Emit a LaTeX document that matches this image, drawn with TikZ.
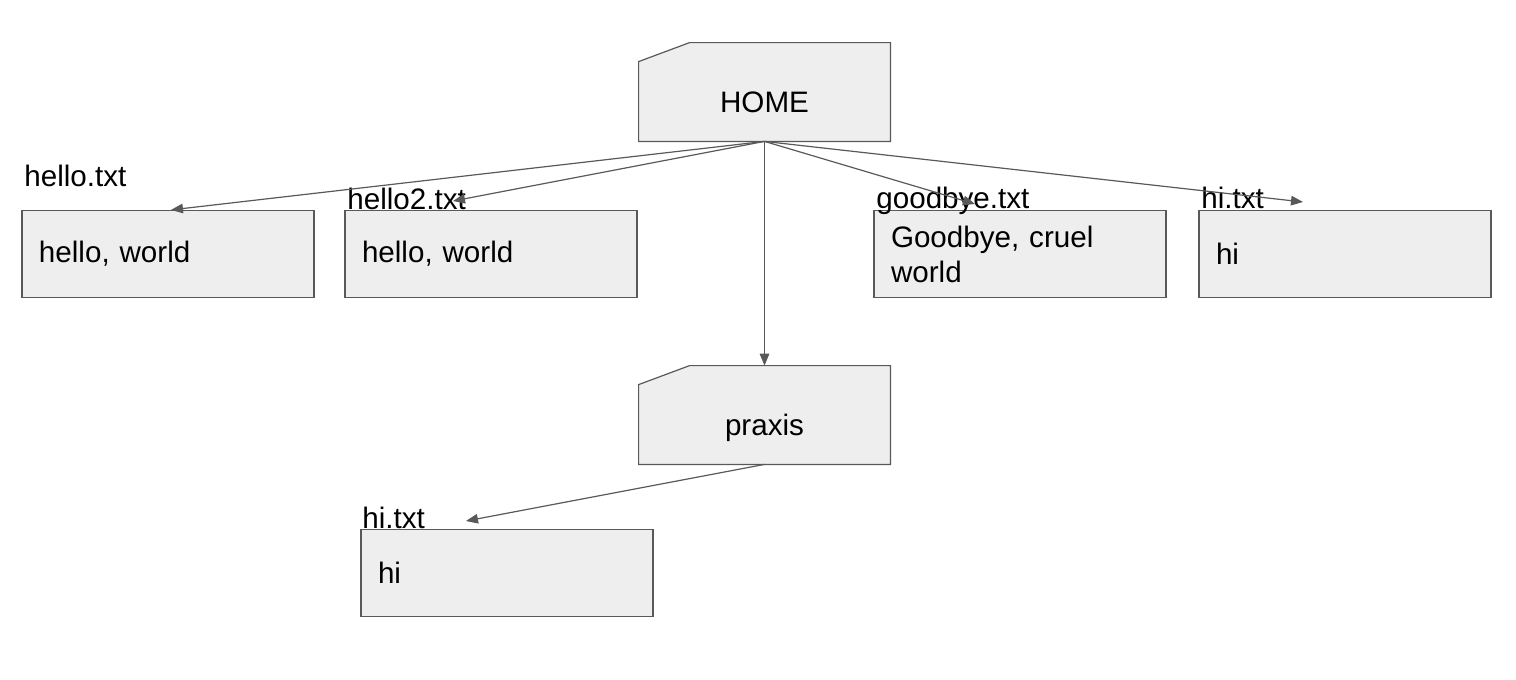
\documentclass[tikz,border=0pt]{standalone}
\usepackage{fontspec}
\setmainfont{Liberation Sans}
\usepackage{xcolor}
\usepackage{tikz}
\usetikzlibrary{arrows.meta,positioning,backgrounds}
\definecolor{linegray}{HTML}{595959}
\definecolor{boxgray}{HTML}{EEEEEE}

\begin{document}
\begin{tikzpicture}[
    x=0.5pt,y=-0.5pt,
    file/.style={draw=linegray, fill=boxgray, line width=0.6pt, minimum width=146pt,
                 minimum height=43.5pt, text width=129pt, inner xsep=8.5pt, align=left,
                 font=\fontsize{14.8}{17.5}\selectfont},
    folder/.style={minimum width=125.5pt, minimum height=49pt, text height=20.5pt,
                   text depth=0pt, font=\fontsize{14.8}{17.5}\selectfont},
    folderline/.style={draw=linegray, fill=boxgray, line width=0.6pt},
    fname/.style={anchor=base west, inner sep=0pt, font=\fontsize{14.8}{17.5}\selectfont},
    arrow/.style={-{Triangle[length=6pt,width=4.8pt]}, linegray, line width=0.6pt}
]
\useasboundingbox (0,0) rectangle (1516,680);

% folders
\node[folder] (home) at (764.5,92) {HOME};
\node[folder] (praxis) at (764.5,415) {praxis};
\begin{pgfonlayer}{background}
\foreach \f in {home,praxis}
  \draw[folderline] (\f.south west) -- ([yshift=-9.5pt]\f.north west)
    -- ([xshift=25.5pt]\f.north west) -- (\f.north east) -- (\f.south east) -- cycle;
\end{pgfonlayer}

% files
\node[file] (hello) at (168,254) {hello, world};
\node[file] (hellotwo) at (491,254) {hello, world};
\node[file] (goodbye) at (1020,254) {Goodbye, cruel\\world};
\node[file] (hi) at (1345,254) {hi};
\node[file] (praxishi) at (507,573) {hi};

\node[fname] (hellolbl) at (24,186) {hello.txt};
\node[fname] (hellotwolbl) at (347,209) {hello2.txt};
\node[fname] (goodbyelbl) at (876,208) {goodbye.txt};
\node[fname] (hilbl) at (1201,208) {hi.txt};
\node[fname] (praxishilbl) at (362,528) {hi.txt};

% arrow ends
\coordinate (tiphellotwo) at (453,201);
\coordinate (tipgoodbye) at (975,204);
\coordinate (tiphi) at (1303,202);
\coordinate (tippraxishi) at (466,521);

\draw[arrow] (home.south) -- ([xshift=1.5pt]hello.north);
\draw[arrow] (home.south) -- (tiphellotwo);
\draw[arrow] (home.south) -- (tipgoodbye);
\draw[arrow] (home.south) -- (tiphi);
\draw[arrow] (home.south) -- (praxis.north);
\draw[arrow] (praxis.south) -- (tippraxishi);
\end{tikzpicture}
\end{document}
